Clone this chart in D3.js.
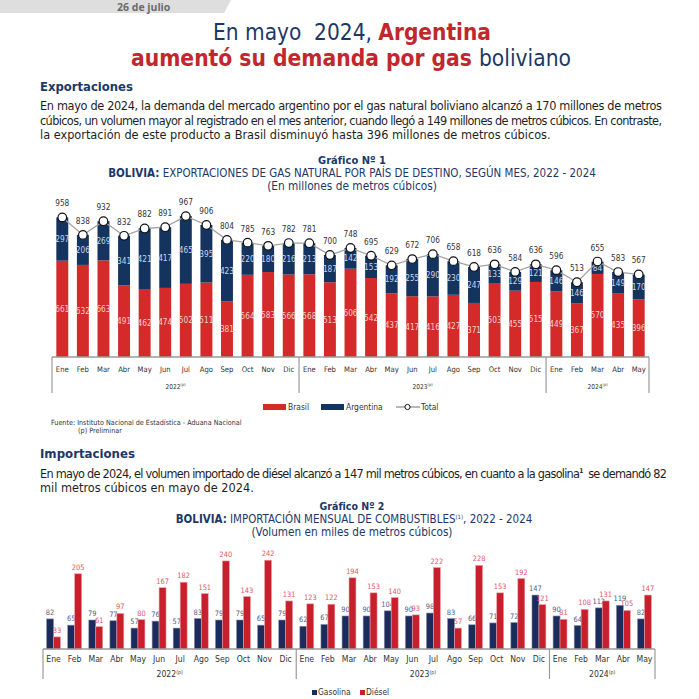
<!DOCTYPE html>
<html lang="es">
<head>
<meta charset="UTF-8">
<title>Exportaciones e importaciones</title>
<script src="https://d3js.org/d3.v7.min.js"></script>
<style>
  body { margin: 0; background: #fff; }
  svg { display: block; font-family: "Liberation Sans Narrow", "DejaVu Sans Condensed", "Noto Sans", sans-serif; }
</style>
</head>
<body>
<div id="page"></div>
<script>
// ---- data ----
var months = ["Ene","Feb","Mar","Abr","May","Jun","Jul","Ago","Sep","Oct","Nov","Dic"];
var years = ["2022","2023","2024"];
var monthsPerYear = [12, 12, 5];

// Gráfico 1 (millones de m3)
var brasil    = [661,632,663,491,462,474,502,511,381,564,583,566, 568,513,606,542,437,417,416,427,371,503,455,515, 449,367,570,435,396];
var argentina = [297,206,269,341,421,417,465,395,423,220,180,216, 213,187,142,153,192,255,290,230,247,133,129,121, 146,146,84,149,170];
var total     = [958,838,932,832,882,891,967,906,804,785,763,782, 781,700,748,695,629,672,706,658,618,636,584,636, 596,513,655,583,567];

// Gráfico 2 (miles de m3)
var gasolina = [82,65,79,77,57,76,57,83,79,79,65,79, 62,67,90,90,104,90,98,83,66,71,72,147, 90,64,112,119,82];
var diesel   = [33,205,61,97,80,167,182,151,240,143,242,131, 123,122,194,153,140,93,222,57,228,153,192,121, 81,108,131,105,147];

var periods = [];
years.forEach(function(y, i) {
    for (var m = 0; m < monthsPerYear[i]; m++) periods.push({ key: y + "-" + m, year: y, month: months[m] });
});

var navy = "#1c3869", red = "#c1272d";

var svg = d3.select("#page").append("svg")
    .attr("width", 699).attr("height", 699);

// scale a text element so it spans a given width
function fit(sel, w) {
    sel.each(function() {
        var t = d3.select(this);
        var len = this.getComputedTextLength();
        t.attr("font-size", +t.attr("font-size") * w / len);
    });
    return sel;
}

// ---- header ----
svg.append("polygon")
    .attr("points", "0,0 231,0 224,13 0,13")
    .attr("fill", "#dedede");
svg.append("text").attr("x", 117).attr("y", 10.5)
    .attr("font-family", "'Open Sans', sans-serif").attr("font-weight", 700)
    .attr("font-size", 10.5).attr("fill", "#6b6b6b").text("26 de julio");

var t1 = svg.append("text").attr("x", 352).attr("y", 40).attr("text-anchor", "middle").attr("font-size", 26);
t1.append("tspan").attr("fill", navy).text("En mayo\u00a0 2024, ");
t1.append("tspan").attr("fill", red).attr("font-weight", 700).text("Argentina");
fit(t1, 278);

var t2 = svg.append("text").attr("x", 351).attr("y", 66).attr("text-anchor", "middle").attr("font-size", 26);
t2.append("tspan").attr("fill", red).attr("font-weight", 700).text("aumentó su demanda por gas ");
t2.append("tspan").attr("fill", navy).text("boliviano");
fit(t2, 440);

// ---- section texts ----
function heading(txt, y, w) {
    fit(svg.append("text").attr("x", 40).attr("y", y).attr("font-size", 15)
        .attr("font-weight", 700).attr("fill", navy).text(txt), w);
}
function para(lines, y0, dy) {
    lines.forEach(function(l, i) {
        var t = svg.append("text").attr("x", 40).attr("y", y0 + i * dy)
            .attr("font-size", 12.6).attr("fill", "#1e1e1e");
        if (l.sup) {
            t.append("tspan").text(l.text);
            t.append("tspan").attr("font-size", 6.5).attr("dy", -5).attr("font-weight", 700).text(l.sup);
            t.append("tspan").attr("dy", 5).text(l.rest);
        } else {
            t.text(l.text);
        }
        if (l.w) t.attr("textLength", l.w).attr("lengthAdjust", "spacing");
    });
}

heading("Exportaciones", 91, 93);
para([
    { text: "En mayo de 2024, la demanda del mercado argentino por el gas natural boliviano alcanzó a 170 millones de metros", w: 622 },
    { text: "cúbicos, un volumen mayor al registrado en el mes anterior, cuando llegó a 149 millones de metros cúbicos. En contraste,", w: 622 },
    { text: "la exportación de este producto a Brasil disminuyó hasta 396 millones de metros cúbicos." }
], 110, 14.5);

heading("Importaciones", 458, 95);
para([
    { text: "En mayo de 2024, el volumen importado de diésel alcanzó a 147 mil metros cúbicos, en cuanto a la gasolina", sup: "1", rest: "\u00a0 se demandó 82", w: 627 },
    { text: "mil metros cúbicos en mayo de 2024." }
], 478, 14);

function chartTitle(num, y, bold, rest, sup, rest2, sub, widths) {
    fit(svg.append("text").attr("x", 352).attr("y", y).attr("text-anchor", "middle")
        .attr("font-size", 11).attr("font-weight", 700).attr("fill", navy).text(num), widths[0]);
    var t = svg.append("text").attr("x", widths[3]).attr("y", y + 13).attr("text-anchor", "middle")
        .attr("font-size", 11).attr("fill", navy);
    t.append("tspan").attr("font-weight", 700).text(bold);
    t.append("tspan").text(rest);
    if (sup) {
        t.append("tspan").attr("font-size", 6).attr("dy", -4).text(sup);
        t.append("tspan").attr("dy", 4).text(rest2);
    }
    fit(t, widths[1]);
    fit(svg.append("text").attr("x", 352).attr("y", y + 26).attr("text-anchor", "middle")
        .attr("font-size", 11).attr("fill", navy).text(sub), widths[2]);
}

chartTitle("Gráfico Nº 1", 164, "BOLIVIA:", " EXPORTACIONES DE GAS NATURAL POR PAÍS DE DESTINO, SEGÚN MES, 2022 - 2024",
    null, null, "(En millones de metros cúbicos)", [68, 488, 170, 352]);
chartTitle("Gráfico Nº 2", 510, "BOLIVIA:", " IMPORTACIÓN MENSUAL DE COMBUSTIBLES", "(1)", ", 2022 - 2024",
    "(Volumen en miles de metros cúbicos)", [65, 357, 201, 354]);

// ---- common x-axis with month and year labels ----
function monthAxis(x, y0, monthSize, yearSize, monthDy, yearDy, sepLen) {
    var g = svg.append("g");
    g.append("line").attr("x1", x.range()[0]).attr("x2", x.range()[1])
        .attr("y1", y0).attr("y2", y0).attr("stroke", "#9a9a9a").attr("stroke-width", 1.3);
    g.selectAll(".m").data(periods).enter().append("text")
        .attr("x", function(d) { return x(d.key) + x.bandwidth() / 2; })
        .attr("y", y0 + monthDy).attr("text-anchor", "middle")
        .attr("font-size", monthSize).attr("fill", "#333")
        .text(function(d) { return d.month; });
    var start = 0, bounds = [];
    years.forEach(function(yr, i) {
        var a = x(periods[start].key) - x.step() * x.paddingInner() / 2;
        var b = x(periods[start + monthsPerYear[i] - 1].key) + x.bandwidth() + x.step() * x.paddingInner() / 2;
        bounds.push({ year: yr, a: a, b: b });
        start += monthsPerYear[i];
    });
    var seps = [x.range()[0]].concat(bounds.slice(1).map(function(d) { return d.a; }), [x.range()[1]]);
    g.selectAll(".sep").data(seps).enter().append("line")
        .attr("x1", function(d) { return d; }).attr("x2", function(d) { return d; })
        .attr("y1", y0).attr("y2", y0 + sepLen).attr("stroke", "#9a9a9a").attr("stroke-width", 1.2);
    var yl = g.selectAll(".yr").data(bounds).enter().append("text")
        .attr("x", function(d) { return (d.a + d.b) / 2; })
        .attr("y", y0 + yearDy).attr("text-anchor", "middle")
        .attr("font-size", yearSize).attr("fill", "#333");
    yl.append("tspan").text(function(d) { return d.year; });
    yl.append("tspan").attr("font-size", yearSize * 0.6).attr("dy", -yearSize * 0.4).text("(p)");
}

// ---- Gráfico 1: stacked bars + total line ----
var x1 = d3.scaleBand().domain(periods.map(function(d) { return d.key; }))
    .range([52, 649]).paddingInner(0.42).paddingOuter(0.21);
var y1 = d3.scaleLinear().domain([0, 1000]).range([357, 211.3]);

var g1 = svg.append("g");
var rows = periods.map(function(p, i) {
    return { key: p.key, brasil: brasil[i], argentina: argentina[i], total: total[i] };
});
var stack = d3.stack().keys(["brasil", "argentina"])(rows);
var fill1 = { brasil: "#d42a2a", argentina: "#14345f" };
var lab1 = { brasil: "#f6cfcf", argentina: "#c9d6ea" };

stack.forEach(function(layer) {
    g1.selectAll(".b-" + layer.key).data(layer).enter().append("rect")
        .attr("x", function(d) { return x1(d.data.key); })
        .attr("y", function(d) { return y1(d[1]); })
        .attr("width", x1.bandwidth())
        .attr("height", function(d) { return y1(d[0]) - y1(d[1]); })
        .attr("fill", fill1[layer.key]);
    g1.selectAll(".l-" + layer.key).data(layer).enter().append("text")
        .attr("x", function(d) { return x1(d.data.key) + x1.bandwidth() / 2; })
        .attr("y", function(d) { return (y1(d[0]) + y1(d[1])) / 2 + 3; })
        .attr("text-anchor", "middle").attr("font-size", 8.2)
        .attr("fill", lab1[layer.key])
        .text(function(d) { return d.data[layer.key]; });
});

var line = d3.line()
    .x(function(d) { return x1(d.key) + x1.bandwidth() / 2; })
    .y(function(d) { return y1(d.total); });
g1.append("path").datum(rows).attr("d", line)
    .attr("fill", "none").attr("stroke", "#a3a3a3").attr("stroke-width", 1.3);
g1.selectAll(".dot").data(rows).enter().append("circle")
    .attr("cx", function(d) { return x1(d.key) + x1.bandwidth() / 2; })
    .attr("cy", function(d) { return y1(d.total); })
    .attr("r", 4.3).attr("fill", "#fff").attr("stroke", "#111").attr("stroke-width", 1.2);
g1.selectAll(".tl").data(rows).enter().append("text")
    .attr("x", function(d) { return x1(d.key) + x1.bandwidth() / 2; })
    .attr("y", function(d) { return y1(d.total) - 11; })
    .attr("text-anchor", "middle").attr("font-size", 8.2).attr("fill", "#333")
    .text(function(d) { return d.total; });

monthAxis(x1, 357, 7.6, 6.6, 15, 32, 36);

// legend 1
var lg1 = svg.append("g").attr("font-size", 8.4).attr("fill", "#333");
lg1.append("rect").attr("x", 263).attr("y", 404).attr("width", 23).attr("height", 6).attr("fill", fill1.brasil);
lg1.append("text").attr("x", 288).attr("y", 410).text("Brasil");
lg1.append("rect").attr("x", 321).attr("y", 404).attr("width", 23).attr("height", 6).attr("fill", fill1.argentina);
lg1.append("text").attr("x", 346).attr("y", 410).text("Argentina");
lg1.append("line").attr("x1", 396).attr("x2", 420).attr("y1", 407).attr("y2", 407).attr("stroke", "#888").attr("stroke-width", 1.2);
lg1.append("circle").attr("cx", 407.5).attr("cy", 407).attr("r", 2.6).attr("fill", "#fff").attr("stroke", "#111").attr("stroke-width", 1);
lg1.append("text").attr("x", 421).attr("y", 410).text("Total");

fit(svg.append("text").attr("x", 51).attr("y", 424.5).attr("font-size", 7).attr("fill", "#333")
    .text("Fuente: Instituto Nacional de Estadística - Aduana Nacional"), 191);
fit(svg.append("text").attr("x", 78).attr("y", 432.5).attr("font-size", 7).attr("fill", "#333")
    .text("(p) Preliminar"), 44);

// ---- Gráfico 2: grouped bars ----
var x2 = d3.scaleBand().domain(periods.map(function(d) { return d.key; }))
    .range([43, 655]).paddingInner(0.34).paddingOuter(0.17);
var xs = d3.scaleBand().domain(["gasolina", "diesel"]).range([0, x2.bandwidth()]);
var y2 = d3.scaleLinear().domain([0, 250]).range([649, 557.25]);

var rows2 = periods.map(function(p, i) { return { key: p.key, gasolina: gasolina[i], diesel: diesel[i] }; });
var fill2 = { gasolina: "#1b2b5c", diesel: "#c81f2c" };
var edge2 = { gasolina: "#8a93b3", diesel: "#eba0a6" };
var lab2 = { gasolina: "#4e5d8c", diesel: "#e4566c" };

var g2 = svg.append("g");
["gasolina", "diesel"].forEach(function(k) {
    g2.selectAll(".b2-" + k).data(rows2).enter().append("rect")
        .attr("x", function(d) { return x2(d.key) + xs(k); })
        .attr("y", function(d) { return y2(d[k]); })
        .attr("width", xs.bandwidth())
        .attr("height", function(d) { return y2(0) - y2(d[k]); })
        .attr("fill", fill2[k]).attr("stroke", edge2[k]).attr("stroke-width", 0.6);
    g2.selectAll(".l2-" + k).data(rows2).enter().append("text")
        .attr("x", function(d) { return x2(d.key) + xs(k) + xs.bandwidth() / 2; })
        .attr("y", function(d) { return y2(d[k]) - 4; })
        .attr("text-anchor", "middle").attr("font-size", 7.4).attr("fill", lab2[k])
        .text(function(d) { return d[k]; });
});

monthAxis(x2, 649, 8.6, 8.6, 13, 28, 30);

var lg2 = svg.append("g").attr("font-size", 8.4).attr("fill", "#333");
lg2.append("rect").attr("x", 312).attr("y", 690).attr("width", 5).attr("height", 5).attr("fill", fill2.gasolina);
lg2.append("text").attr("x", 318).attr("y", 695).text("Gasolina");
lg2.append("rect").attr("x", 360).attr("y", 690).attr("width", 5).attr("height", 5).attr("fill", fill2.diesel);
lg2.append("text").attr("x", 366).attr("y", 695).text("Diésel");
</script>
</body>
</html>
